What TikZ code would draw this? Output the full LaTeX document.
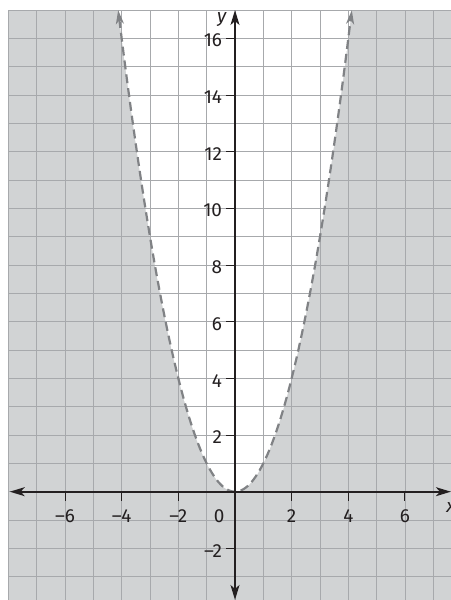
\documentclass[tikz,border=0pt]{standalone}
\usepackage{fontspec}
\setmainfont{Fira Sans}
\usetikzlibrary{arrows.meta, calc, positioning}
\definecolor{shadegray}{HTML}{D1D3D4}
\definecolor{gridgray}{HTML}{A7A9AC}
\definecolor{axisblack}{HTML}{231F20}
\definecolor{curvegray}{HTML}{808285}

\begin{document}
\begin{tikzpicture}[
  gridln/.style={draw=gridgray, line width=0.8pt},
  axis/.style={draw=axisblack, line width=1.8pt,
               {Stealth[length=15pt, width=9pt, inset=4pt]}-{Stealth[length=15pt, width=9pt, inset=4pt]}},
  tickln/.style={draw=axisblack, line width=1pt},
  bound/.style={draw=curvegray, line width=2.2pt, dash pattern=on 9pt off 5pt,
                {Stealth[length=14pt, width=8pt, inset=4pt]}-{Stealth[length=14pt, width=8pt, inset=4pt]}},
  lbl/.style={font=\fontsize{19}{21}\selectfont, text=axisblack, inner sep=0pt},
]
  \useasboundingbox (-8.295,-3.823) rectangle (7.624,17.356);

  %% Shaded region y < x^2
  \fill[shadegray] (-8,-4) rectangle (8,17);
  \fill[white] (-4.123,17) -- plot[domain=-4.123:4.123, samples=120] (\x,{\x*\x}) -- cycle;

  %% Grid
  \draw[gridln] (-8,-4) grid (8,17);

  %% Boundary y = x^2 (dashed)
  \draw[bound] plot[domain=-4.123:4.123, samples=120] (\x,{\x*\x});

  %% Axes
  \coordinate (xmin) at (-7.95,0);
  \coordinate (xmax) at (7.62,0);
  \coordinate (ymin) at (0,-3.82);
  \coordinate (ymax) at (0,17);
  \draw[axis] (xmin) -- (xmax);
  \draw[axis] (ymin) -- (ymax);

  %% Ticks and labels
  \foreach \x/\t [count=\i] in {-6/–6, -4/–4, -2/–2, 2/2, 4/4, 6/6} {
    \draw[tickln] (\x,0) -- (\x,-0.33);
    \node[lbl] (xl\i) at (\x,-0.86) {\t};
  }
  \foreach \y/\t [count=\i] in {-2/–2, 2/2, 4/4, 6/6, 8/8, 10/10, 12/12, 14/14, 16/16} {
    \draw[tickln] (0,\y) -- (-0.33,\y);
    \node[lbl, anchor=east] (yl\i) at (-0.45,\y-0.08) {\t};
  }
  \node[lbl] (orig) at (-0.56,-0.86) {0};
  \node[lbl, font=\fontsize{19}{21}\selectfont\itshape] (ylab) at (-0.47,16.65) {y};
  \node[lbl, font=\fontsize{19}{21}\selectfont\itshape] (xlab) at (7.62,-0.55) {x};
\end{tikzpicture}
\end{document}
